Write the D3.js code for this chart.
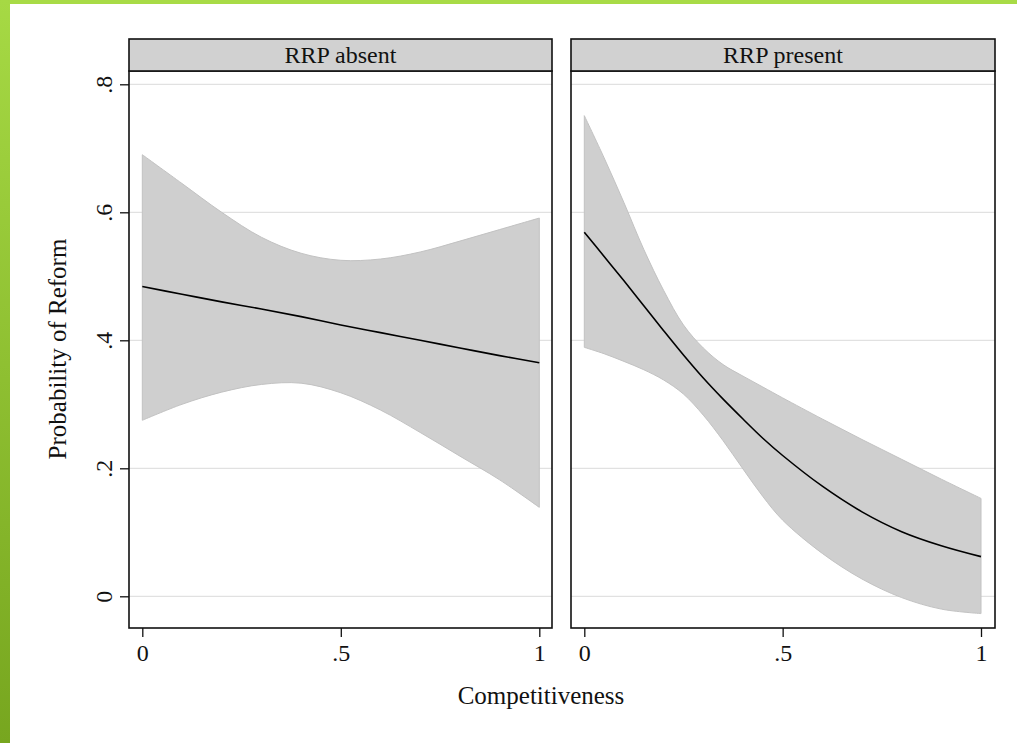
<!DOCTYPE html>
<html>
<head>
<meta charset="utf-8">
<script src="https://cdn.jsdelivr.net/npm/d3@7"></script>
<style>
  body { margin: 0; background: #fff; }
  svg { display: block; font-family: "Liberation Serif", "Times New Roman", serif; }
</style>
</head>
<body>
<div id="chart"></div>
<script>
// panel titles
var panels = ["RRP absent", "RRP present"];

// RRP absent
var absentX = [0, .1, .2, .3, .4, .5, .6, .7, .8, .9, 1];
var absentFit = [.484, .472, .460, .449, .437, .424, .412, .400, .388, .376, .365];
var absentHi = [.690, .645, .600, .561, .536, .525, .527, .538, .555, .573, .591];
var absentLo = [.275, .300, .319, .331, .333, .318, .291, .256, .219, .182, .139];

// RRP present
var presentX = [0, .05, .1, .15, .2, .25, .3, .35, .4, .45, .5, .6, .7, .8, .9, 1];
var presentFit = [.569, .531, .493, .454, .415, .377, .341, .308, .277, .247, .220, .172, .132, .101, .079, .062];
var presentHi = [.751, .685, .615, .542, .478, .424, .388, .362, .344, .327, .310, .277, .245, .214, .183, .153];
var presentLo = [.389, .379, .367, .354, .338, .316, .283, .243, .199, .156, .119, .067, .027, -.002, -.020, -.027];

var xTicks = [0, .5, 1];
var xTickLabels = ["0", ".5", "1"];
var yTicks = [0, .2, .4, .6, .8];
var yTickLabels = ["0", ".2", ".4", ".6", ".8"];

var w = 1017, h = 743;
var svg = d3.select("#chart").append("svg").attr("width", w).attr("height", h);

// green frame
var grad = svg.append("defs").append("linearGradient")
  .attr("id", "gbar").attr("x1", 0).attr("y1", 0).attr("x2", 0).attr("y2", 1);
grad.append("stop").attr("offset", 0).attr("stop-color", "#a6d944");
grad.append("stop").attr("offset", 1).attr("stop-color", "#77a61f");
svg.append("rect").attr("x", 0).attr("y", 0).attr("width", w).attr("height", 4).attr("fill", "#a8db46");
svg.append("rect").attr("x", 0).attr("y", 0).attr("width", 10).attr("height", h).attr("fill", "url(#gbar)");

var headTop = 39, headBot = 71, plotBot = 628;
var panelBox = [[129, 552], [571, 995]];
var series = [
  { xs: absentX, fit: absentFit, hi: absentHi, lo: absentLo },
  { xs: presentX, fit: presentFit, hi: presentHi, lo: presentLo }
];

var y = d3.scaleLinear().domain([0, .8]).range([596.3, 84.3]);
var curve = d3.curveCatmullRom.alpha(0.5);

panels.forEach(function (title, p) {
  var x0 = panelBox[p][0], x1 = panelBox[p][1];
  var x = d3.scaleLinear().domain([0, 1]).range(p == 0 ? [142.3, 539.3] : [584.3, 981]);
  var g = svg.append("g");
  var s = series[p];
  var rows = s.xs.map(function (v, i) { return { x: v, fit: s.fit[i], hi: s.hi[i], lo: s.lo[i] }; });

  // grid
  g.selectAll(".grid").data(yTicks).enter().append("line")
    .attr("x1", x0).attr("x2", x1)
    .attr("y1", function (d) { return y(d); }).attr("y2", function (d) { return y(d); })
    .attr("stroke", "#e1e1e1").attr("stroke-width", 1.3);

  // confidence band
  g.append("path").datum(rows)
    .attr("d", d3.area().curve(curve)
      .x(function (d) { return x(d.x); })
      .y0(function (d) { return y(d.lo); })
      .y1(function (d) { return y(d.hi); }))
    .attr("fill", "#cfcfcf").attr("stroke", "#c2c2c2").attr("stroke-width", 1);

  // fitted line
  g.append("path").datum(rows)
    .attr("d", d3.line().curve(curve)
      .x(function (d) { return x(d.x); })
      .y(function (d) { return y(d.fit); }))
    .attr("fill", "none").attr("stroke", "#000").attr("stroke-width", 1.6);

  // frame
  g.append("rect").attr("x", x0).attr("y", headBot).attr("width", x1 - x0).attr("height", plotBot - headBot)
    .attr("fill", "none").attr("stroke", "#111").attr("stroke-width", 1.6);

  // header strip
  g.append("rect").attr("x", x0).attr("y", headTop).attr("width", x1 - x0).attr("height", headBot - headTop)
    .attr("fill", "#d1d1d1").attr("stroke", "#111").attr("stroke-width", 1.6);
  g.append("text").attr("x", (x0 + x1) / 2).attr("y", 62.5)
    .attr("text-anchor", "middle").attr("font-size", 24).attr("fill", "#111").text(title);

  // x axis
  var xa = svg.append("g").attr("transform", "translate(0," + plotBot + ")")
    .call(d3.axisBottom(x).tickValues(xTicks).tickFormat(function (d, i) { return xTickLabels[i]; })
      .tickSize(9).tickSizeOuter(0));
  xa.select(".domain").remove();
  xa.selectAll("line").attr("stroke", "#111").attr("stroke-width", 1.3);
  xa.selectAll("text").attr("font-family", "Liberation Serif, serif").attr("font-size", 24)
    .attr("fill", "#111").attr("dy", 0).attr("y", 33);
});

// y axis (left panel only)
var ya = svg.append("g").attr("transform", "translate(129,0)")
  .call(d3.axisLeft(y).tickValues(yTicks).tickFormat(function (d, i) { return yTickLabels[i]; })
    .tickSize(9).tickSizeOuter(0));
ya.select(".domain").remove();
ya.selectAll("line").attr("stroke", "#111").attr("stroke-width", 1.3);
ya.selectAll("text").attr("font-family", "Liberation Serif, serif").attr("font-size", 24)
  .attr("fill", "#111").attr("x", 0).attr("dy", 0).attr("text-anchor", "middle")
  .attr("transform", "translate(-17,0) rotate(-90)");

// axis titles
svg.append("text").attr("x", 541).attr("y", 704).attr("text-anchor", "middle")
  .attr("font-size", 25).attr("fill", "#111").text("Competitiveness");
svg.append("text").attr("transform", "translate(66,349) rotate(-90)").attr("text-anchor", "middle")
  .attr("font-size", 25).attr("fill", "#111").text("Probability of Reform");
</script>
</body>
</html>
